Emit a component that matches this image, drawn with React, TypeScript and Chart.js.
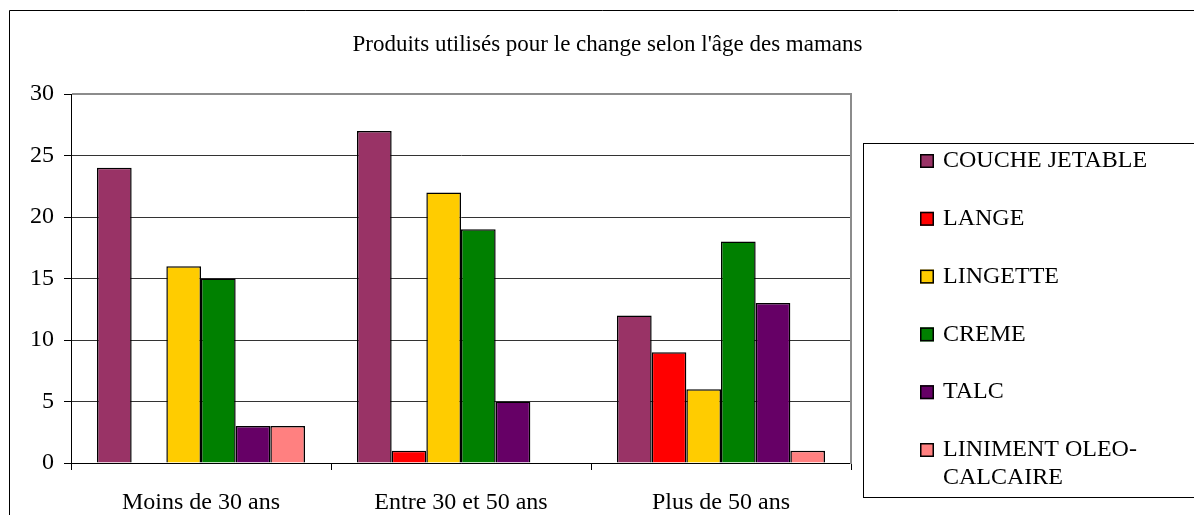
import React, { useEffect, useRef } from "react";
import { Chart, registerables } from "chart.js";

Chart.register(...registerables);

const titleText = "Produits utilisés pour le change selon l'âge des mamans";
const categories = ["Moins de 30 ans", "Entre 30 et 50 ans", "Plus de 50 ans"];
const seriesNames = ["COUCHE JETABLE", "LANGE", "LINGETTE", "CREME", "TALC", "LINIMENT OLEO-CALCAIRE"];
const coucheJetable = [24, 27, 12];
const lange = [0, 1, 9];
const lingette = [16, 22, 6];
const creme = [15, 19, 18];
const talc = [3, 5, 13];
const liniment = [3, 0, 1];
const seriesColors = ["#993366", "#FF0000", "#FFCC00", "#008000", "#660066", "#FF8080"];
const yMin = 0;
const yMax = 30;
const yStep = 5;

const seriesData = [coucheJetable, lange, lingette, creme, talc, liniment];
const FONT = "'Liberation Serif', 'Times New Roman', serif";

const framePlugin = {
  id: "frame",
  beforeDraw(chart: any) {
    const ctx = chart.ctx;
    ctx.save();
    ctx.fillStyle = "#fff";
    ctx.fillRect(0, 0, chart.width, chart.height);
    ctx.strokeStyle = "#000";
    ctx.lineWidth = 1;
    ctx.beginPath();
    ctx.moveTo(9.5, chart.height + 2);
    ctx.lineTo(9.5, 10.5);
    ctx.lineTo(chart.width + 2, 10.5);
    ctx.stroke();
    ctx.restore();
  },
  beforeDatasetsDraw(chart: any) {
    const ctx = chart.ctx;
    const a = chart.chartArea;
    ctx.save();
    ctx.strokeStyle = "#8c8c8c";
    ctx.lineWidth = 2;
    ctx.beginPath();
    ctx.moveTo(a.left + 1, a.top);
    ctx.lineTo(a.right, a.top);
    ctx.lineTo(a.right, a.bottom + 1);
    ctx.stroke();
    ctx.restore();
  },
};

const legendPlugin = {
  id: "boxLegend",
  afterDraw(chart: any) {
    const ctx = chart.ctx;
    const boxLeft = 863.5;
    const boxTop = 143.5;
    const boxBottom = 497.5;
    const itemX = 920;
    const textX = 943;
    const firstRow = 161;
    const rowStep = 57.8;
    const lineStep = 28;
    const sq = 14;
    ctx.save();
    ctx.strokeStyle = "#000";
    ctx.lineWidth = 1;
    ctx.strokeRect(boxLeft, boxTop, chart.width + 10 - boxLeft, boxBottom - boxTop);
    ctx.font = `24px ${FONT}`;
    ctx.textBaseline = "middle";
    ctx.textAlign = "left";
    const maxW = chart.width - textX - 8;
    chart.data.datasets.forEach((ds: any, i: number) => {
      const y = firstRow + i * rowStep;
      ctx.fillStyle = ds.backgroundColor;
      ctx.fillRect(itemX, y - sq / 2, sq, sq);
      ctx.strokeStyle = "#000";
      ctx.lineWidth = 1.5;
      ctx.strokeRect(itemX + 0.75, y - sq / 2 + 0.75, sq - 1.5, sq - 1.5);
      const label: string = ds.label;
      let lines = [label];
      if (ctx.measureText(label).width > maxW && label.indexOf("-") > 0) {
        const k = label.indexOf("-") + 1;
        lines = [label.slice(0, k), label.slice(k)];
      }
      ctx.fillStyle = "#000";
      lines.forEach((ln, j) => ctx.fillText(ln, textX, y + j * lineStep));
    });
    ctx.restore();
  },
};

export default function App() {
  const ref = useRef<HTMLCanvasElement>(null);
  useEffect(() => {
    const chart = new Chart(ref.current as HTMLCanvasElement, {
      type: "bar",
      data: {
        labels: categories,
        datasets: seriesNames.map((name, i) => ({
          label: name,
          data: seriesData[i],
          backgroundColor: seriesColors[i],
          borderColor: "#000",
          borderWidth: 1.5,
          categoryPercentage: 0.8,
          barPercentage: 1,
        })),
      },
      options: {
        responsive: false,
        animation: false,
        devicePixelRatio: 1,
        layout: { padding: { left: 21, top: 0, right: 0, bottom: 0 } },
        plugins: {
          legend: { display: false },
          tooltip: { enabled: false },
          title: {
            display: true,
            text: titleText,
            color: "#000",
            font: { family: FONT, size: 23, weight: "normal" },
            padding: { top: 31, bottom: 35.4 },
          },
        },
        scales: {
          x: {
            grid: { display: true, drawOnChartArea: false, drawTicks: true, tickLength: 7, color: "#000", offset: true },
            border: { display: true, color: "#000", width: 1 },
            ticks: { color: "#000", font: { family: FONT, size: 24 }, padding: 18, maxRotation: 0, autoSkip: false },
            afterFit: (s: any) => { s.height = 52; },
          },
          y: {
            min: yMin,
            max: yMax,
            ticks: { stepSize: yStep, color: "#000", font: { family: FONT, size: 24 }, padding: 10 },
            grid: { color: "#333", tickColor: "#000", tickLength: 7, drawTicks: true },
            border: { color: "#000" },
            afterFit: (s: any) => { s.width = 50; },
          },
          pad: {
            type: "linear",
            position: "right",
            display: true,
            grid: { display: false },
            border: { display: false },
            ticks: { display: false },
            afterFit: (s: any) => { s.width = 343; },
          },
        },
      } as any,
      plugins: [framePlugin, legendPlugin],
    });
    return () => chart.destroy();
  }, []);
  return (
    <div style={{ position: "fixed", left: 0, top: 0, width: 1194, height: 515, background: "#fff" }}>
      <canvas ref={ref} width={1194} height={515} style={{ display: "block", width: 1194, height: 515 }} />
    </div>
  );
}
